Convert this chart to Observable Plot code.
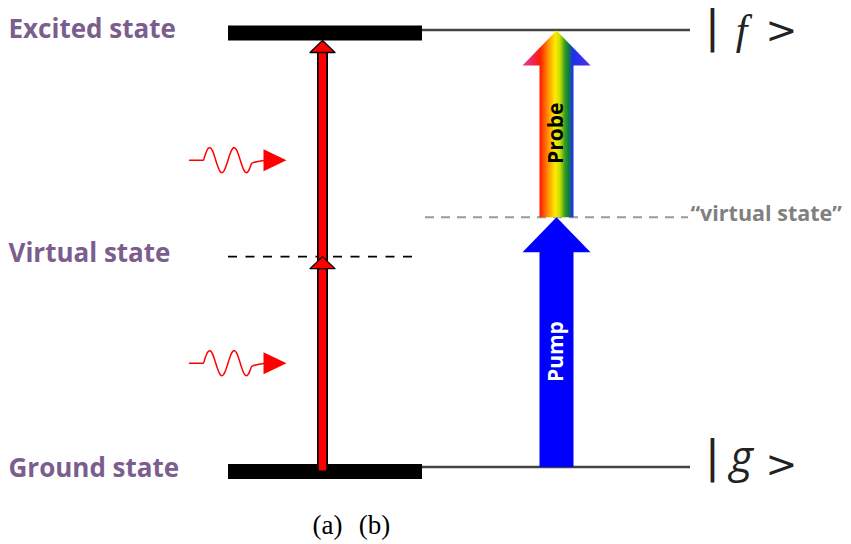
<!DOCTYPE html>
<html><head><meta charset="utf-8">
<script src="https://cdn.jsdelivr.net/npm/d3@7"></script>
<script src="https://cdn.jsdelivr.net/npm/@observablehq/plot@0.6"></script>
<style>html,body{margin:0;padding:0;background:#fff;} svg{display:block}</style>
</head><body><div id="chart"></div>
<script>
// ---- data (energies in arbitrary units: ground = 0, excited = 1) ----
const levelNamesA = ["Ground state", "Virtual state", "Excited state"];
const levelEnergiesA = [0, 0.49, 1];
const levelSolidA = [true, false, true];
const ketNamesB = ["g", "f"];
const ketEnergiesB = [0, 1];
const virtualNameB = "\u201cvirtual state\u201d";
const virtualEnergyB = 0.58;
const photonEnergies = [0.247, 0.71];
const beamNames = ["Pump", "Probe"];
const beamFrom = [0, 0.58];
const beamTo = [0.58, 1];
const panelLabels = ["(a)", "(b)"];

// ---- layout ----
const W = 851, H = 544;
const yGround = 471, yExcited = 32.5;
const k = yGround - yExcited;          // pixels per energy unit
const px = d => d / k;                 // pixel distance -> energy
const L = {barX1: 228, barX2: 422, dashX2: 413, lineX2: 690, arrowX: 322,
  beamX: 556, labelX: 8, waveX0: 189, ketX: 712, panelX: [327, 374]};
const ketStyle = {  // per ket: dy of bar, letter, chevron
  g: {bar: -14, letter: -13.5, chev: -7, font: "Open Sans", size: 44},
  f: {bar: -5.5, letter: -2.5, chev: -2, font: "Liberation Serif", size: 42}
};

const levelsA = levelNamesA.map((name, i) => ({name, E: levelEnergiesA[i], solid: levelSolidA[i]}));
const beams = beamNames.map((name, i) => ({name, from: beamFrom[i], to: beamTo[i]}));

// red two-photon arrow heads (a)
const heads = [];
[levelEnergiesA[1], levelEnergiesA[2] - px(7.5)].forEach((E, i) => {
  heads.push({id: i, x: L.arrowX, y: E});
  heads.push({id: i, x: L.arrowX - 12.5, y: E - px(12)});
  heads.push({id: i, x: L.arrowX + 12.5, y: E - px(12)});
});

// wavy photon glyphs
const wavePts = [], waveHeads = [];
photonEnergies.forEach((E, i) => {
  wavePts.push({id: i, x: L.waveX0, y: E});
  for (let t = 0; t <= 48; t += 1) {
    wavePts.push({id: i, x: L.waveX0 + 14 + t, y: E + px(12.5 * Math.sin(2 * Math.PI * t / 24.5))});
  }
  wavePts.push({id: i, x: L.waveX0 + 76, y: E});
  waveHeads.push({id: i, x: L.waveX0 + 74, y: E + px(11)});
  waveHeads.push({id: i, x: L.waveX0 + 97, y: E});
  waveHeads.push({id: i, x: L.waveX0 + 74, y: E - px(11)});
});

// block arrows (b)
const beamPolys = [];
const bottoms = [beamFrom[0] + px(4.5), beamFrom[1]];
const tips = [beamTo[0], beamTo[1] + px(2.5)];
beams.forEach((b, i) => {
  const x = L.beamX, y0 = bottoms[i], yt = tips[i], yb = yt - px(35);
  [[x - 17, y0], [x - 17, yb], [x - 34, yb], [x, yt], [x + 34, yb], [x + 17, yb], [x + 17, y0]]
    .forEach(([xx, yy]) => beamPolys.push({id: b.name, x: xx, y: yy}));
  b.mid = (y0 + yb) / 2 + px(8);
});

const fx = v => () => v;

const ketMarks = ketNamesB.flatMap((name, i) => {
  const s = ketStyle[name], E = [ketEnergiesB[i]];
  return [
    Plot.text(E, {x: fx(L.ketX), y: d => d, text: () => "|", fill: "#222", fontSize: 44, fontFamily: "DejaVu Sans", dy: s.bar}),
    Plot.text(E, {x: fx(L.ketX + 29), y: d => d, text: () => name, fill: "#222", fontSize: s.size, fontStyle: "italic", fontFamily: s.font, dy: s.letter}),
    Plot.text(E, {x: fx(L.ketX + 69), y: d => d, text: () => ">", fill: "#222", fontSize: 38, fontFamily: "DejaVu Sans", dy: s.chev})
  ];
});

const chart = Plot.plot({
  width: W, height: H, margin: 0,
  x: {domain: [0, W], range: [0, W], axis: null},
  y: {domain: [0, 1], range: [yGround, yExcited], axis: null},
  style: {background: "#fff", overflow: "visible"},
  marks: [
    // (a) levels
    Plot.ruleY(levelsA.filter(d => d.solid), {y: "E", x1: fx(L.barX1), x2: fx(L.barX2), stroke: "#000", strokeWidth: 15}),
    Plot.ruleY(levelsA.filter(d => !d.solid), {y: "E", x1: fx(L.barX1), x2: fx(L.dashX2), stroke: "#000", strokeWidth: 1.8, strokeDasharray: "9,8.5"}),
    // (b) levels
    Plot.ruleY([ketEnergiesB[1]], {y: d => d, x1: fx(L.barX2), x2: fx(L.lineX2), stroke: "#444", strokeWidth: 2.5, dy: -3}),
    Plot.ruleY([ketEnergiesB[0]], {y: d => d, x1: fx(L.barX2), x2: fx(L.lineX2), stroke: "#444", strokeWidth: 2.5, dy: -4.5}),
    Plot.ruleY([virtualEnergyB], {y: d => d, x1: fx(425), x2: fx(688), stroke: "#9a9a9a", strokeWidth: 2, strokeDasharray: "9,7"}),
    // red arrow shaft
    Plot.ruleX([L.arrowX], {x: d => d, y1: fx(levelEnergiesA[0]), y2: fx(levelEnergiesA[2] - px(16)), stroke: "#000", strokeWidth: 11}),
    Plot.ruleX([L.arrowX], {x: d => d, y1: fx(levelEnergiesA[0] + px(0.5)), y2: fx(levelEnergiesA[2] - px(16)), stroke: "#f00", strokeWidth: 7.5}),
    Plot.line(heads, {x: "x", y: "y", z: "id", curve: "linear-closed", fill: "#f00", stroke: "#000", strokeWidth: 1.3}),
    // wavy photons
    Plot.line(wavePts, {x: "x", y: "y", z: "id", stroke: "#f00", strokeWidth: 1.5, curve: "monotone-x"}),
    Plot.line(waveHeads, {x: "x", y: "y", z: "id", curve: "linear-closed", fill: "#f00", stroke: "none"}),
    // pump / probe arrows
    Plot.line(beamPolys.filter(d => d.id === "Pump"), {x: "x", y: "y", curve: "linear-closed", fill: "#0000ff", stroke: "none"}),
    Plot.line(beamPolys.filter(d => d.id === "Probe"), {x: "x", y: "y", curve: "linear-closed", fill: "url(#rainbow)", stroke: "none"}),
    Plot.text(beams, {x: fx(L.beamX), y: "mid", text: "name", rotate: -90, fill: (d) => d.name === "Pump" ? "#fff" : "#000",
      fontSize: 21, fontWeight: "bold", fontFamily: "Open Sans"}),
    // labels
    Plot.text(levelsA, {x: fx(L.labelX), y: "E", text: "name", textAnchor: "start", fill: "#7b5e8d",
      fontSize: 26, fontWeight: "bold", fontFamily: "Open Sans", dy: -3}),
    Plot.text([virtualEnergyB], {x: fx(L.lineX2), y: d => d, text: () => virtualNameB, textAnchor: "start", fill: "#808080",
      fontSize: 21.5, fontWeight: "bold", fontFamily: "Open Sans", dy: -3}),
    ...ketMarks,
    Plot.text(panelLabels, {x: (d, i) => L.panelX[i], y: fx(-px(54)), text: d => d, fill: "#000", fontSize: 27, fontFamily: "Liberation Serif"})
  ]
});

chart.insertAdjacentHTML("afterbegin",
  `<defs><linearGradient id="rainbow" x1="0" x2="1" y1="0" y2="0">
    <stop offset="0" stop-color="#e23aa8"/>
    <stop offset="0.2" stop-color="#f0203a"/>
    <stop offset="0.26" stop-color="#ff1e00"/>
    <stop offset="0.37" stop-color="#ff8a00"/>
    <stop offset="0.48" stop-color="#ffec00"/>
    <stop offset="0.55" stop-color="#c8e000"/>
    <stop offset="0.62" stop-color="#3aa020"/>
    <stop offset="0.68" stop-color="#0f7a40"/>
    <stop offset="0.74" stop-color="#1a30f0"/>
    <stop offset="1" stop-color="#5a2ee0"/>
  </linearGradient></defs>`);
document.getElementById("chart").appendChild(chart);
</script>
</body></html>
